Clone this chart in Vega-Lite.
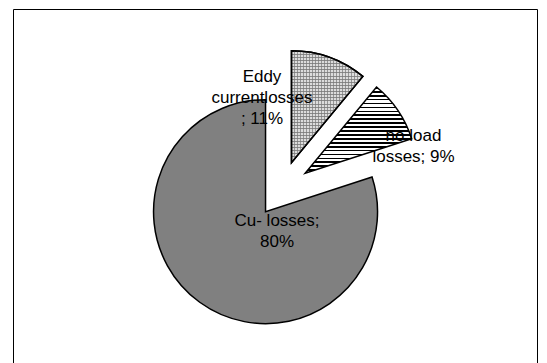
{
  "$schema": "https://vega.github.io/schema/vega-lite/v6.json",
  "width": 524,
  "height": 354,
  "autosize": {"type": "none"},
  "padding": {"left": 13, "top": 9, "right": 10, "bottom": 0},
  "background": "#ffffff",
  "view": {"stroke": "#000000", "strokeWidth": 1, "fill": "#ffffff"},
  "data": {
    "values": [
      {"category": "Eddy current losses", "prefix": "Eddy|currentlosses|; ", "value": 11},
      {"category": "no load losses", "prefix": "no load|losses; ", "value": 9},
      {"category": "Cu- losses", "prefix": "Cu- losses;|", "value": 80}
    ]
  },
  "transform": [
    {"stack": "value", "as": ["t0", "t1"], "groupby": []},
    {"calculate": "split(datum.prefix + datum.value + '%', '|')", "as": "label"}
  ],
  "layer": [
    {
      "mark": {
        "type": "arc",
        "outerRadius": 112,
        "stroke": "#000000",
        "strokeWidth": 1.5,
        "strokeJoin": "miter",
        "x": {"expr": "width / 2 + 7"},
        "y": {"expr": "height / 2 + 3"},
        "xOffset": {"expr": "28 * sin(PI * (datum.t0 + datum.t1) / 100)"},
        "yOffset": {"expr": "-28 * cos(PI * (datum.t0 + datum.t1) / 100)"}
      },
      "encoding": {
        "theta": {"field": "t0", "type": "quantitative", "stack": null, "scale": {"domain": [0, 100]}},
        "theta2": {"field": "t1"},
        "fill": {
          "condition": [
            {
              "test": "datum.category === 'no load losses'",
              "value": {
                "gradient": "linear", "x1": 0, "y1": 0, "x2": 0, "y2": 1,
                "stops": [
                  {"offset": 0, "color": "#000000"}, {"offset": 0.02, "color": "#000000"}, {"offset": 0.02, "color": "#ffffff"}, {"offset": 0.04545, "color": "#ffffff"},
                  {"offset": 0.04545, "color": "#000000"}, {"offset": 0.06545, "color": "#000000"}, {"offset": 0.06545, "color": "#ffffff"}, {"offset": 0.09091, "color": "#ffffff"},
                  {"offset": 0.09091, "color": "#000000"}, {"offset": 0.11091, "color": "#000000"}, {"offset": 0.11091, "color": "#ffffff"}, {"offset": 0.13636, "color": "#ffffff"},
                  {"offset": 0.13636, "color": "#000000"}, {"offset": 0.15636, "color": "#000000"}, {"offset": 0.15636, "color": "#ffffff"}, {"offset": 0.18182, "color": "#ffffff"},
                  {"offset": 0.18182, "color": "#000000"}, {"offset": 0.20182, "color": "#000000"}, {"offset": 0.20182, "color": "#ffffff"}, {"offset": 0.22727, "color": "#ffffff"},
                  {"offset": 0.22727, "color": "#000000"}, {"offset": 0.24727, "color": "#000000"}, {"offset": 0.24727, "color": "#ffffff"}, {"offset": 0.27273, "color": "#ffffff"},
                  {"offset": 0.27273, "color": "#000000"}, {"offset": 0.29273, "color": "#000000"}, {"offset": 0.29273, "color": "#ffffff"}, {"offset": 0.31818, "color": "#ffffff"},
                  {"offset": 0.31818, "color": "#000000"}, {"offset": 0.33818, "color": "#000000"}, {"offset": 0.33818, "color": "#ffffff"}, {"offset": 0.36364, "color": "#ffffff"},
                  {"offset": 0.36364, "color": "#000000"}, {"offset": 0.38364, "color": "#000000"}, {"offset": 0.38364, "color": "#ffffff"}, {"offset": 0.40909, "color": "#ffffff"},
                  {"offset": 0.40909, "color": "#000000"}, {"offset": 0.42909, "color": "#000000"}, {"offset": 0.42909, "color": "#ffffff"}, {"offset": 0.45455, "color": "#ffffff"},
                  {"offset": 0.45455, "color": "#000000"}, {"offset": 0.47455, "color": "#000000"}, {"offset": 0.47455, "color": "#ffffff"}, {"offset": 0.5, "color": "#ffffff"},
                  {"offset": 0.5, "color": "#000000"}, {"offset": 0.52, "color": "#000000"}, {"offset": 0.52, "color": "#ffffff"}, {"offset": 0.54545, "color": "#ffffff"},
                  {"offset": 0.54545, "color": "#000000"}, {"offset": 0.56545, "color": "#000000"}, {"offset": 0.56545, "color": "#ffffff"}, {"offset": 0.59091, "color": "#ffffff"},
                  {"offset": 0.59091, "color": "#000000"}, {"offset": 0.61091, "color": "#000000"}, {"offset": 0.61091, "color": "#ffffff"}, {"offset": 0.63636, "color": "#ffffff"},
                  {"offset": 0.63636, "color": "#000000"}, {"offset": 0.65636, "color": "#000000"}, {"offset": 0.65636, "color": "#ffffff"}, {"offset": 0.68182, "color": "#ffffff"},
                  {"offset": 0.68182, "color": "#000000"}, {"offset": 0.70182, "color": "#000000"}, {"offset": 0.70182, "color": "#ffffff"}, {"offset": 0.72727, "color": "#ffffff"},
                  {"offset": 0.72727, "color": "#000000"}, {"offset": 0.74727, "color": "#000000"}, {"offset": 0.74727, "color": "#ffffff"}, {"offset": 0.77273, "color": "#ffffff"},
                  {"offset": 0.77273, "color": "#000000"}, {"offset": 0.79273, "color": "#000000"}, {"offset": 0.79273, "color": "#ffffff"}, {"offset": 0.81818, "color": "#ffffff"},
                  {"offset": 0.81818, "color": "#000000"}, {"offset": 0.83818, "color": "#000000"}, {"offset": 0.83818, "color": "#ffffff"}, {"offset": 0.86364, "color": "#ffffff"},
                  {"offset": 0.86364, "color": "#000000"}, {"offset": 0.88364, "color": "#000000"}, {"offset": 0.88364, "color": "#ffffff"}, {"offset": 0.90909, "color": "#ffffff"},
                  {"offset": 0.90909, "color": "#000000"}, {"offset": 0.92909, "color": "#000000"}, {"offset": 0.92909, "color": "#ffffff"}, {"offset": 0.95455, "color": "#ffffff"},
                  {"offset": 0.95455, "color": "#000000"}, {"offset": 0.97455, "color": "#000000"}, {"offset": 0.97455, "color": "#ffffff"}, {"offset": 1, "color": "#ffffff"}
                ]
              }
            },
            {
              "test": "datum.category === 'Eddy current losses'",
              "value": {
                "gradient": "linear", "x1": 0, "y1": 0, "x2": 0, "y2": 1,
                "stops": [
                  {"offset": 0, "color": "#8a8a8a"}, {"offset": 0.00926, "color": "#8a8a8a"}, {"offset": 0.00926, "color": "#dcdcdc"}, {"offset": 0.02778, "color": "#dcdcdc"},
                  {"offset": 0.02778, "color": "#8a8a8a"}, {"offset": 0.03704, "color": "#8a8a8a"}, {"offset": 0.03704, "color": "#dcdcdc"}, {"offset": 0.05556, "color": "#dcdcdc"},
                  {"offset": 0.05556, "color": "#8a8a8a"}, {"offset": 0.06482, "color": "#8a8a8a"}, {"offset": 0.06482, "color": "#dcdcdc"}, {"offset": 0.08333, "color": "#dcdcdc"},
                  {"offset": 0.08333, "color": "#8a8a8a"}, {"offset": 0.09259, "color": "#8a8a8a"}, {"offset": 0.09259, "color": "#dcdcdc"}, {"offset": 0.11111, "color": "#dcdcdc"},
                  {"offset": 0.11111, "color": "#8a8a8a"}, {"offset": 0.12037, "color": "#8a8a8a"}, {"offset": 0.12037, "color": "#dcdcdc"}, {"offset": 0.13889, "color": "#dcdcdc"},
                  {"offset": 0.13889, "color": "#8a8a8a"}, {"offset": 0.14815, "color": "#8a8a8a"}, {"offset": 0.14815, "color": "#dcdcdc"}, {"offset": 0.16667, "color": "#dcdcdc"},
                  {"offset": 0.16667, "color": "#8a8a8a"}, {"offset": 0.17593, "color": "#8a8a8a"}, {"offset": 0.17593, "color": "#dcdcdc"}, {"offset": 0.19444, "color": "#dcdcdc"},
                  {"offset": 0.19444, "color": "#8a8a8a"}, {"offset": 0.2037, "color": "#8a8a8a"}, {"offset": 0.2037, "color": "#dcdcdc"}, {"offset": 0.22222, "color": "#dcdcdc"},
                  {"offset": 0.22222, "color": "#8a8a8a"}, {"offset": 0.23148, "color": "#8a8a8a"}, {"offset": 0.23148, "color": "#dcdcdc"}, {"offset": 0.25, "color": "#dcdcdc"},
                  {"offset": 0.25, "color": "#8a8a8a"}, {"offset": 0.25926, "color": "#8a8a8a"}, {"offset": 0.25926, "color": "#dcdcdc"}, {"offset": 0.27778, "color": "#dcdcdc"},
                  {"offset": 0.27778, "color": "#8a8a8a"}, {"offset": 0.28704, "color": "#8a8a8a"}, {"offset": 0.28704, "color": "#dcdcdc"}, {"offset": 0.30556, "color": "#dcdcdc"},
                  {"offset": 0.30556, "color": "#8a8a8a"}, {"offset": 0.31482, "color": "#8a8a8a"}, {"offset": 0.31482, "color": "#dcdcdc"}, {"offset": 0.33333, "color": "#dcdcdc"},
                  {"offset": 0.33333, "color": "#8a8a8a"}, {"offset": 0.34259, "color": "#8a8a8a"}, {"offset": 0.34259, "color": "#dcdcdc"}, {"offset": 0.36111, "color": "#dcdcdc"},
                  {"offset": 0.36111, "color": "#8a8a8a"}, {"offset": 0.37037, "color": "#8a8a8a"}, {"offset": 0.37037, "color": "#dcdcdc"}, {"offset": 0.38889, "color": "#dcdcdc"},
                  {"offset": 0.38889, "color": "#8a8a8a"}, {"offset": 0.39815, "color": "#8a8a8a"}, {"offset": 0.39815, "color": "#dcdcdc"}, {"offset": 0.41667, "color": "#dcdcdc"},
                  {"offset": 0.41667, "color": "#8a8a8a"}, {"offset": 0.42593, "color": "#8a8a8a"}, {"offset": 0.42593, "color": "#dcdcdc"}, {"offset": 0.44444, "color": "#dcdcdc"},
                  {"offset": 0.44444, "color": "#8a8a8a"}, {"offset": 0.4537, "color": "#8a8a8a"}, {"offset": 0.4537, "color": "#dcdcdc"}, {"offset": 0.47222, "color": "#dcdcdc"},
                  {"offset": 0.47222, "color": "#8a8a8a"}, {"offset": 0.48148, "color": "#8a8a8a"}, {"offset": 0.48148, "color": "#dcdcdc"}, {"offset": 0.5, "color": "#dcdcdc"},
                  {"offset": 0.5, "color": "#8a8a8a"}, {"offset": 0.50926, "color": "#8a8a8a"}, {"offset": 0.50926, "color": "#dcdcdc"}, {"offset": 0.52778, "color": "#dcdcdc"},
                  {"offset": 0.52778, "color": "#8a8a8a"}, {"offset": 0.53704, "color": "#8a8a8a"}, {"offset": 0.53704, "color": "#dcdcdc"}, {"offset": 0.55556, "color": "#dcdcdc"},
                  {"offset": 0.55556, "color": "#8a8a8a"}, {"offset": 0.56482, "color": "#8a8a8a"}, {"offset": 0.56482, "color": "#dcdcdc"}, {"offset": 0.58333, "color": "#dcdcdc"},
                  {"offset": 0.58333, "color": "#8a8a8a"}, {"offset": 0.59259, "color": "#8a8a8a"}, {"offset": 0.59259, "color": "#dcdcdc"}, {"offset": 0.61111, "color": "#dcdcdc"},
                  {"offset": 0.61111, "color": "#8a8a8a"}, {"offset": 0.62037, "color": "#8a8a8a"}, {"offset": 0.62037, "color": "#dcdcdc"}, {"offset": 0.63889, "color": "#dcdcdc"},
                  {"offset": 0.63889, "color": "#8a8a8a"}, {"offset": 0.64815, "color": "#8a8a8a"}, {"offset": 0.64815, "color": "#dcdcdc"}, {"offset": 0.66667, "color": "#dcdcdc"},
                  {"offset": 0.66667, "color": "#8a8a8a"}, {"offset": 0.67593, "color": "#8a8a8a"}, {"offset": 0.67593, "color": "#dcdcdc"}, {"offset": 0.69444, "color": "#dcdcdc"},
                  {"offset": 0.69444, "color": "#8a8a8a"}, {"offset": 0.7037, "color": "#8a8a8a"}, {"offset": 0.7037, "color": "#dcdcdc"}, {"offset": 0.72222, "color": "#dcdcdc"},
                  {"offset": 0.72222, "color": "#8a8a8a"}, {"offset": 0.73148, "color": "#8a8a8a"}, {"offset": 0.73148, "color": "#dcdcdc"}, {"offset": 0.75, "color": "#dcdcdc"},
                  {"offset": 0.75, "color": "#8a8a8a"}, {"offset": 0.75926, "color": "#8a8a8a"}, {"offset": 0.75926, "color": "#dcdcdc"}, {"offset": 0.77778, "color": "#dcdcdc"},
                  {"offset": 0.77778, "color": "#8a8a8a"}, {"offset": 0.78704, "color": "#8a8a8a"}, {"offset": 0.78704, "color": "#dcdcdc"}, {"offset": 0.80556, "color": "#dcdcdc"},
                  {"offset": 0.80556, "color": "#8a8a8a"}, {"offset": 0.81482, "color": "#8a8a8a"}, {"offset": 0.81482, "color": "#dcdcdc"}, {"offset": 0.83333, "color": "#dcdcdc"},
                  {"offset": 0.83333, "color": "#8a8a8a"}, {"offset": 0.84259, "color": "#8a8a8a"}, {"offset": 0.84259, "color": "#dcdcdc"}, {"offset": 0.86111, "color": "#dcdcdc"},
                  {"offset": 0.86111, "color": "#8a8a8a"}, {"offset": 0.87037, "color": "#8a8a8a"}, {"offset": 0.87037, "color": "#dcdcdc"}, {"offset": 0.88889, "color": "#dcdcdc"},
                  {"offset": 0.88889, "color": "#8a8a8a"}, {"offset": 0.89815, "color": "#8a8a8a"}, {"offset": 0.89815, "color": "#dcdcdc"}, {"offset": 0.91667, "color": "#dcdcdc"},
                  {"offset": 0.91667, "color": "#8a8a8a"}, {"offset": 0.92593, "color": "#8a8a8a"}, {"offset": 0.92593, "color": "#dcdcdc"}, {"offset": 0.94444, "color": "#dcdcdc"},
                  {"offset": 0.94444, "color": "#8a8a8a"}, {"offset": 0.9537, "color": "#8a8a8a"}, {"offset": 0.9537, "color": "#dcdcdc"}, {"offset": 0.97222, "color": "#dcdcdc"},
                  {"offset": 0.97222, "color": "#8a8a8a"}, {"offset": 0.98148, "color": "#8a8a8a"}, {"offset": 0.98148, "color": "#dcdcdc"}, {"offset": 1, "color": "#dcdcdc"}
                ]
              }
            }
          ],
          "value": "#808080"
        }
      }
    },
    {
      "transform": [{"filter": "datum.category === 'Eddy current losses'"}],
      "mark": {
        "type": "arc",
        "outerRadius": 112,
        "stroke": "#000000",
        "strokeWidth": 1.5,
        "strokeJoin": "miter",
        "x": {"expr": "width / 2 + 7"},
        "y": {"expr": "height / 2 + 3"},
        "xOffset": {"expr": "28 * sin(PI * (datum.t0 + datum.t1) / 100)"},
        "yOffset": {"expr": "-28 * cos(PI * (datum.t0 + datum.t1) / 100)"},
        "fill": {
          "gradient": "linear", "x1": 0, "y1": 0, "x2": 1, "y2": 0,
          "stops": [
            {"offset": 0, "color": "rgba(120,120,120,0.7)"}, {"offset": 0.01389, "color": "rgba(120,120,120,0.7)"}, {"offset": 0.01389, "color": "rgba(255,255,255,0)"}, {"offset": 0.04167, "color": "rgba(255,255,255,0)"},
            {"offset": 0.04167, "color": "rgba(120,120,120,0.7)"}, {"offset": 0.05556, "color": "rgba(120,120,120,0.7)"}, {"offset": 0.05556, "color": "rgba(255,255,255,0)"}, {"offset": 0.08333, "color": "rgba(255,255,255,0)"},
            {"offset": 0.08333, "color": "rgba(120,120,120,0.7)"}, {"offset": 0.09722, "color": "rgba(120,120,120,0.7)"}, {"offset": 0.09722, "color": "rgba(255,255,255,0)"}, {"offset": 0.125, "color": "rgba(255,255,255,0)"},
            {"offset": 0.125, "color": "rgba(120,120,120,0.7)"}, {"offset": 0.13889, "color": "rgba(120,120,120,0.7)"}, {"offset": 0.13889, "color": "rgba(255,255,255,0)"}, {"offset": 0.16667, "color": "rgba(255,255,255,0)"},
            {"offset": 0.16667, "color": "rgba(120,120,120,0.7)"}, {"offset": 0.18056, "color": "rgba(120,120,120,0.7)"}, {"offset": 0.18056, "color": "rgba(255,255,255,0)"}, {"offset": 0.20833, "color": "rgba(255,255,255,0)"},
            {"offset": 0.20833, "color": "rgba(120,120,120,0.7)"}, {"offset": 0.22222, "color": "rgba(120,120,120,0.7)"}, {"offset": 0.22222, "color": "rgba(255,255,255,0)"}, {"offset": 0.25, "color": "rgba(255,255,255,0)"},
            {"offset": 0.25, "color": "rgba(120,120,120,0.7)"}, {"offset": 0.26389, "color": "rgba(120,120,120,0.7)"}, {"offset": 0.26389, "color": "rgba(255,255,255,0)"}, {"offset": 0.29167, "color": "rgba(255,255,255,0)"},
            {"offset": 0.29167, "color": "rgba(120,120,120,0.7)"}, {"offset": 0.30556, "color": "rgba(120,120,120,0.7)"}, {"offset": 0.30556, "color": "rgba(255,255,255,0)"}, {"offset": 0.33333, "color": "rgba(255,255,255,0)"},
            {"offset": 0.33333, "color": "rgba(120,120,120,0.7)"}, {"offset": 0.34722, "color": "rgba(120,120,120,0.7)"}, {"offset": 0.34722, "color": "rgba(255,255,255,0)"}, {"offset": 0.375, "color": "rgba(255,255,255,0)"},
            {"offset": 0.375, "color": "rgba(120,120,120,0.7)"}, {"offset": 0.38889, "color": "rgba(120,120,120,0.7)"}, {"offset": 0.38889, "color": "rgba(255,255,255,0)"}, {"offset": 0.41667, "color": "rgba(255,255,255,0)"},
            {"offset": 0.41667, "color": "rgba(120,120,120,0.7)"}, {"offset": 0.43056, "color": "rgba(120,120,120,0.7)"}, {"offset": 0.43056, "color": "rgba(255,255,255,0)"}, {"offset": 0.45833, "color": "rgba(255,255,255,0)"},
            {"offset": 0.45833, "color": "rgba(120,120,120,0.7)"}, {"offset": 0.47222, "color": "rgba(120,120,120,0.7)"}, {"offset": 0.47222, "color": "rgba(255,255,255,0)"}, {"offset": 0.5, "color": "rgba(255,255,255,0)"},
            {"offset": 0.5, "color": "rgba(120,120,120,0.7)"}, {"offset": 0.51389, "color": "rgba(120,120,120,0.7)"}, {"offset": 0.51389, "color": "rgba(255,255,255,0)"}, {"offset": 0.54167, "color": "rgba(255,255,255,0)"},
            {"offset": 0.54167, "color": "rgba(120,120,120,0.7)"}, {"offset": 0.55556, "color": "rgba(120,120,120,0.7)"}, {"offset": 0.55556, "color": "rgba(255,255,255,0)"}, {"offset": 0.58333, "color": "rgba(255,255,255,0)"},
            {"offset": 0.58333, "color": "rgba(120,120,120,0.7)"}, {"offset": 0.59722, "color": "rgba(120,120,120,0.7)"}, {"offset": 0.59722, "color": "rgba(255,255,255,0)"}, {"offset": 0.625, "color": "rgba(255,255,255,0)"},
            {"offset": 0.625, "color": "rgba(120,120,120,0.7)"}, {"offset": 0.63889, "color": "rgba(120,120,120,0.7)"}, {"offset": 0.63889, "color": "rgba(255,255,255,0)"}, {"offset": 0.66667, "color": "rgba(255,255,255,0)"},
            {"offset": 0.66667, "color": "rgba(120,120,120,0.7)"}, {"offset": 0.68056, "color": "rgba(120,120,120,0.7)"}, {"offset": 0.68056, "color": "rgba(255,255,255,0)"}, {"offset": 0.70833, "color": "rgba(255,255,255,0)"},
            {"offset": 0.70833, "color": "rgba(120,120,120,0.7)"}, {"offset": 0.72222, "color": "rgba(120,120,120,0.7)"}, {"offset": 0.72222, "color": "rgba(255,255,255,0)"}, {"offset": 0.75, "color": "rgba(255,255,255,0)"},
            {"offset": 0.75, "color": "rgba(120,120,120,0.7)"}, {"offset": 0.76389, "color": "rgba(120,120,120,0.7)"}, {"offset": 0.76389, "color": "rgba(255,255,255,0)"}, {"offset": 0.79167, "color": "rgba(255,255,255,0)"},
            {"offset": 0.79167, "color": "rgba(120,120,120,0.7)"}, {"offset": 0.80556, "color": "rgba(120,120,120,0.7)"}, {"offset": 0.80556, "color": "rgba(255,255,255,0)"}, {"offset": 0.83333, "color": "rgba(255,255,255,0)"},
            {"offset": 0.83333, "color": "rgba(120,120,120,0.7)"}, {"offset": 0.84722, "color": "rgba(120,120,120,0.7)"}, {"offset": 0.84722, "color": "rgba(255,255,255,0)"}, {"offset": 0.875, "color": "rgba(255,255,255,0)"},
            {"offset": 0.875, "color": "rgba(120,120,120,0.7)"}, {"offset": 0.88889, "color": "rgba(120,120,120,0.7)"}, {"offset": 0.88889, "color": "rgba(255,255,255,0)"}, {"offset": 0.91667, "color": "rgba(255,255,255,0)"},
            {"offset": 0.91667, "color": "rgba(120,120,120,0.7)"}, {"offset": 0.93056, "color": "rgba(120,120,120,0.7)"}, {"offset": 0.93056, "color": "rgba(255,255,255,0)"}, {"offset": 0.95833, "color": "rgba(255,255,255,0)"},
            {"offset": 0.95833, "color": "rgba(120,120,120,0.7)"}, {"offset": 0.97222, "color": "rgba(120,120,120,0.7)"}, {"offset": 0.97222, "color": "rgba(255,255,255,0)"}, {"offset": 1, "color": "rgba(255,255,255,0)"}
          ]
        }
      },
      "encoding": {
        "theta": {"field": "t0", "type": "quantitative", "stack": null, "scale": {"domain": [0, 100]}},
        "theta2": {"field": "t1"}
      }
    },
    {
      "mark": {
        "type": "text",
        "font": "Liberation Sans",
        "fontSize": 17,
        "lineHeight": 21,
        "align": "center",
        "baseline": "middle",
        "color": "#000000",
        "x": {"expr": "width / 2 + 7"},
        "y": {"expr": "height / 2 + 3"},
        "dx": {"expr": "datum.category === 'Eddy current losses' ? -20 : datum.category === 'no load losses' ? 131.5 : -5"},
        "dy": {"expr": "datum.category === 'Eddy current losses' ? -112 : datum.category === 'no load losses' ? -52.6 : 32.4"}
      },
      "encoding": {
        "text": {"field": "label"}
      }
    }
  ]
}
